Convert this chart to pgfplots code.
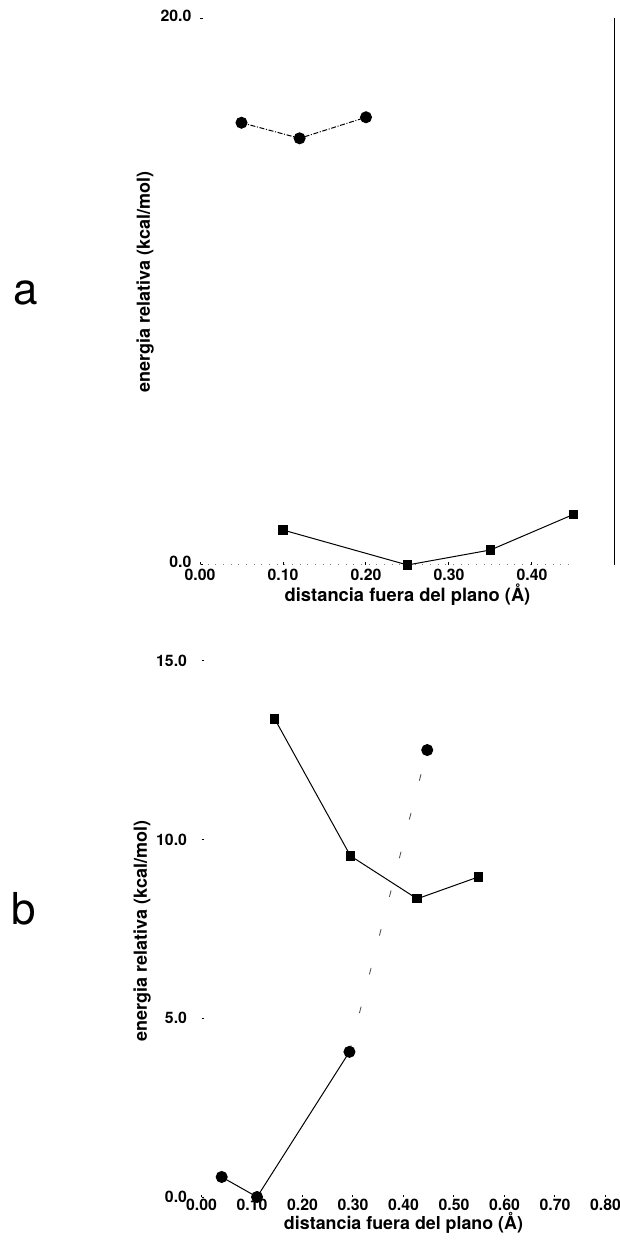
\documentclass[border=0pt]{standalone}
\usepackage{fontspec}
\setmainfont{TeX Gyre Heros}
\usepackage{pgfplots}
\pgfplotsset{compat=1.18}
\pgfplotsset{
  common/.style={
    scale only axis, anchor=south west, clip=false,
    axis line style={draw=none},
    xtick pos=left, ytick pos=left,
    tick align=inside, major tick length=1.5pt,
    tick style={black, line width=0.6pt},
    xticklabel style={font=\fontsize{9.5}{11}\selectfont\bfseries, anchor=north, inner sep=0pt},
    yticklabel style={font=\fontsize{9.5}{11}\selectfont\bfseries, anchor=east, inner sep=0pt},
    xlabel style={font=\fontsize{11}{13}\selectfont\bfseries, anchor=center, inner sep=0pt},
    ylabel style={font=\fontsize{10.8}{13}\selectfont\bfseries, anchor=center, inner sep=0pt},
    xlabel={distancia fuera del plano (Å)},
    ylabel={energia relativa (kcal/mol)},
  },
  circ/.style={black, line width=0.6pt, mark=*, mark size=3.3pt, mark options={solid}},
  sq/.style={black, line width=0.6pt, mark=square*, mark size=2.5pt, mark options={solid}},
}
\begin{document}
\begin{tikzpicture}
\path[use as bounding box] (0,0) rectangle (372pt,744.6pt);
\node[font=\fontsize{26.4}{30}\selectfont, inner sep=0pt] at (15.6pt,568.8pt) {a};
\node[font=\fontsize{26.4}{30}\selectfont, inner sep=0pt] at (14.4pt,199.2pt) {b};

\begin{axis}[common,
  at={(120pt,405.6pt)}, width=249pt, height=328pt,
  xmin=0, xmax=0.5, ymin=0, ymax=20,
  xtick={0,0.1,0.2,0.3,0.4}, xticklabels={0.00,0.10,0.20,0.30,0.40},
  ytick={0,20}, yticklabels={0.0,20.0},
  xticklabel style={yshift=-2.4pt},
  yticklabel style={xshift=-5pt, yshift=1.6pt},
  xlabel style={at={(axis description cs:0.5,-0.0549)}},
  ylabel style={at={(axis description cs:-0.1325,0.518)}},
]
\draw[black, line width=0.6pt] (rel axis cs:1,0) -- (rel axis cs:1,1);
\draw[gray, line width=0.6pt, loosely dotted] (rel axis cs:0,0) -- (rel axis cs:0.9,0);
\addplot[circ, densely dashdotted] coordinates {(0.05,16.18) (0.12,15.61) (0.20,16.38)};
\addplot[sq] coordinates {(0.10,1.28) (0.25,0.0) (0.35,0.55) (0.45,1.85)};
\end{axis}

\begin{axis}[common,
  at={(120.9pt,26.4pt)}, width=242.4pt, height=321.8pt,
  xmin=0, xmax=0.8, ymin=0, ymax=15,
  xtick={0,0.1,0.2,0.3,0.4,0.5,0.6,0.7,0.8},
  xticklabels={0.00,0.10,0.20,0.30,0.40,0.50,0.60,0.70,0.80},
  ytick={0,5,10,15}, yticklabels={0.0,5.0,10.0,15.0},
  xticklabel style={yshift=-1.2pt},
  yticklabel style={xshift=-8.5pt},
  xlabel style={at={(axis description cs:0.5,-0.049)}, font=\fontsize{10.7}{13}\selectfont\bfseries},
  ylabel style={at={(axis description cs:-0.147,0.496)}},
]
\addplot[black!70, line width=0.5pt, dash pattern=on 4pt off 20pt] coordinates {(0.293,4.06) (0.447,12.50)};
\addplot[circ] coordinates {(0.04,0.56) (0.11,0.0) (0.293,4.06)};
\addplot[circ, only marks] coordinates {(0.447,12.50)};
\addplot[sq] coordinates {(0.145,13.37) (0.295,9.54) (0.427,8.34) (0.548,8.95)};
\end{axis}
\end{tikzpicture}
\end{document}
